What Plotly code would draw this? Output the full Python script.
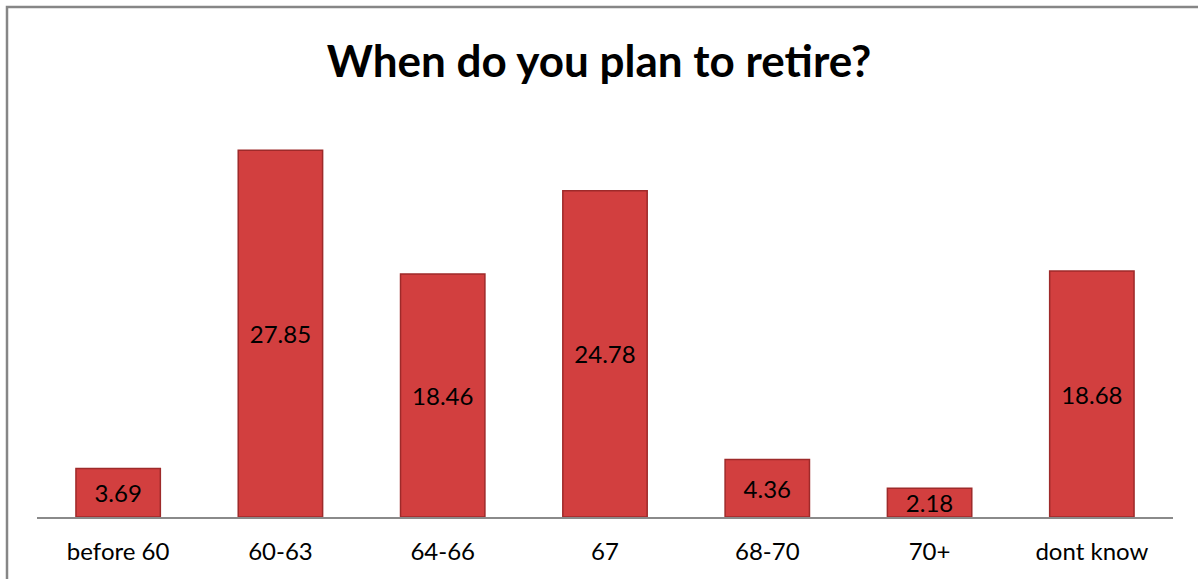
import plotly.graph_objects as go

# Survey responses: planned retirement age (%)
categories = ["before 60", "60-63", "64-66", "67", "68-70", "70+", "dont know"]
values = [3.69, 27.85, 18.46, 24.78, 4.36, 2.18, 18.68]
labels = [f"{v:.2f}" for v in values]

FONT = "Lato, 'Open Sans', sans-serif"

fig = go.Figure()
fig.add_trace(go.Bar(
    x=categories,
    y=values,
    text=labels,
    textposition="inside",
    insidetextanchor="middle",
    textangle=0,
    constraintext="none",
    textfont=dict(family=FONT, size=24, color="#000000"),
    marker=dict(color="#d23f3f", line=dict(color="#9e2a2a", width=1.5)),
    width=0.52,
    hoverinfo="x+y",
))

fig.update_layout(
    width=1198,
    height=579,
    paper_bgcolor="white",
    plot_bgcolor="white",
    margin=dict(l=37, r=25, t=122, b=62),
    showlegend=False,
    title=dict(
        text="<b>When do you plan to retire?</b>",
        x=0.5,
        xanchor="center",
        y=1 - 62 / 579,
        yanchor="middle",
        font=dict(family=FONT, size=44, color="#000000"),
    ),
    xaxis=dict(
        showline=True,
        linecolor="#8a8a8a",
        linewidth=2,
        ticks="",
        showgrid=False,
        tickfont=dict(family=FONT, size=24, color="#000000"),
        ticklabelstandoff=12,
    ),
    yaxis=dict(
        range=[0, 30],
        visible=False,
        showgrid=False,
        zeroline=False,
    ),
    uniformtext=dict(minsize=24, mode="show"),
)

# Chart frame (top and left edges visible)
fig.add_shape(
    type="rect", xref="paper", yref="paper",
    x0=-30 / 1136, x1=1.2, y0=-0.3, y1=1 + 115 / 395,
    line=dict(color="#868686", width=2.5),
    fillcolor="rgba(0,0,0,0)", layer="below",
)

fig.write_html("out.html")
